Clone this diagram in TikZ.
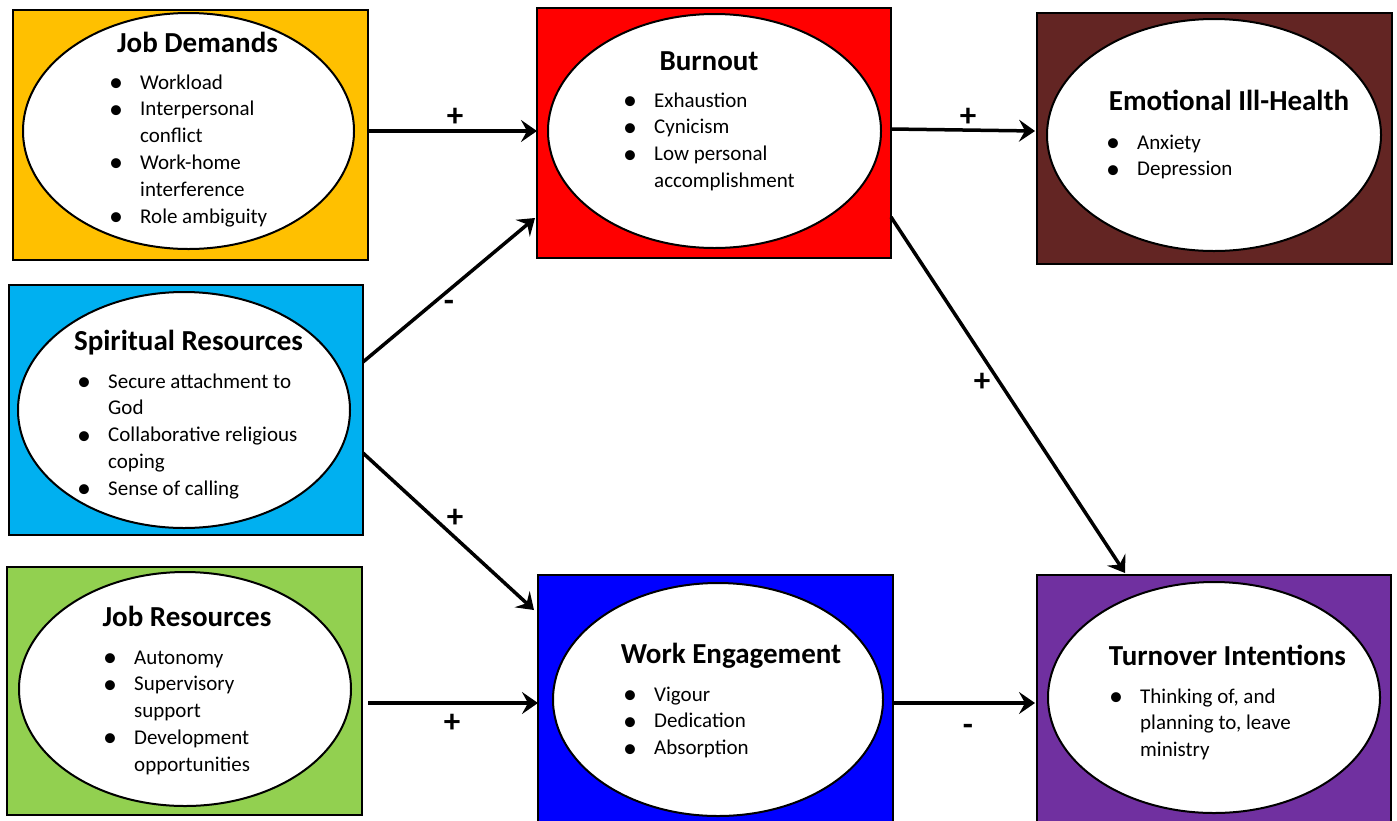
\documentclass[tikz,border=0pt]{standalone}
\usepackage{fontspec}
\setmainfont{Carlito}
\usetikzlibrary{shapes.geometric,arrows.meta,calc}
\definecolor{cYellow}{HTML}{FFC000}
\definecolor{cRed}{HTML}{FF0000}
\definecolor{cBrown}{HTML}{632523}
\definecolor{cCyan}{HTML}{00B0F0}
\definecolor{cGreen}{HTML}{92D050}
\definecolor{cBlue}{HTML}{0000FF}
\definecolor{cPurple}{HTML}{7030A0}
\newcommand{\bul}{\makebox[24pt][l]{\makebox[0pt][c]{\raisebox{-2.5pt}{\fontsize{28}{28}\selectfont •}}}}
\tikzset{
  box/.style={rectangle, draw=black, line width=1.5pt, inner sep=0pt, outer sep=0pt},
  oval/.style={ellipse, draw=black, line width=2pt, fill=white, inner sep=0pt, outer sep=0pt},
  ttl/.style={font=\fontsize{29}{35}\selectfont\bfseries, inner sep=0pt, anchor=base},
  lst/.style={font=\fontsize{21}{26.8}\selectfont, inner sep=0pt, anchor=base west},
  arr/.style={line width=3.5pt, -{Stealth[length=16pt,width=22pt,inset=6pt]}},
  sgn/.style={font=\fontsize{33}{35}\selectfont\bfseries, inner sep=0pt}
}
\begin{document}
\begin{tikzpicture}[x=1pt,y=-1pt]
\clip (0,0) rectangle (1397,820);
\fill[white] (0,0) rectangle (1397,820);

% boxes
\node[box, fill=cYellow, minimum width=355pt, minimum height=250pt] (jd) at (190.5,135) {};
\node[box, fill=cRed, minimum width=354pt, minimum height=250pt] (bo) at (714,133) {};
\node[box, fill=cBrown, minimum width=355pt, minimum height=251pt] (emo) at (1214.5,138.5) {};
\node[box, fill=cCyan, minimum width=354pt, minimum height=250pt] (sp) at (186,410) {};
\node[box, fill=cGreen, minimum width=355pt, minimum height=248pt] (jr) at (184.5,691) {};
\node[box, fill=cBlue, minimum width=355pt, minimum height=250pt] (we) at (715.5,700) {};
\node[box, fill=cPurple, minimum width=354pt, minimum height=250pt] (tu) at (1214,700) {};

% ovals
\node[oval, minimum width=331pt, minimum height=236pt] (jdo) at (188.5,131) {};
\node[oval, minimum width=333pt, minimum height=234pt] (boo) at (714.5,131) {};
\node[oval, minimum width=334pt, minimum height=232pt] (emoo) at (1214,135) {};
\node[oval, minimum width=332pt, minimum height=236pt] (spo) at (184,410) {};
\node[oval, minimum width=332pt, minimum height=234pt] (jro) at (185,689) {};
\node[oval, minimum width=330pt, minimum height=233pt] (weo) at (718,699.5) {};
\node[oval, minimum width=332pt, minimum height=231pt] (tuo) at (1214,697.5) {};

% titles
\node[ttl] (jdt) at (197.5,52) {Job Demands};
\node[ttl] (bot) at (709,70) {Burnout};
\node[ttl] (emot) at (1229,110) {Emotional Ill-Health};
\node[ttl] (spt) at (188.5,350) {Spiritual Resources};
\node[ttl] (jrt) at (187,626) {Job Resources};
\node[ttl] (wet) at (731,663) {Work Engagement};
\node[ttl] (tut) at (1227.5,665) {Turnover Intentions};

% lists
\node[lst] (jdl) at (116,89) {\begin{tabular}[t]{@{}l@{}l@{}}
\bul & Workload\\ \bul & Interpersonal\\ & conflict\\ \bul & Work-home\\ & interference\\ \bul & Role ambiguity\end{tabular}};
\node[lst] (bol) at (630,107) {\begin{tabular}[t]{@{}l@{}l@{}}
\bul & Exhaustion\\ \bul & Cynicism\\ \bul & Low personal\\ & accomplishment\end{tabular}};
\node[lst] (emol) at (1113,149) {\begin{tabular}[t]{@{}l@{}l@{}}
\bul & Anxiety\\ \bul & Depression\end{tabular}};
\node[lst] (spl) at (84,388) {\begin{tabular}[t]{@{}l@{}l@{}}
\bul & Secure attachment to\\ & God\\ \bul & Collaborative religious\\ & coping\\ \bul & Sense of calling\end{tabular}};
\node[lst] (jrl) at (110,664) {\begin{tabular}[t]{@{}l@{}l@{}}
\bul & Autonomy\\ \bul & Supervisory\\ & support\\ \bul & Development\\ & opportunities\end{tabular}};
\node[lst] (wel) at (630,701) {\begin{tabular}[t]{@{}l@{}l@{}}
\bul & Vigour\\ \bul & Dedication\\ \bul & Absorption\end{tabular}};
\node[lst] (tul) at (1116,703) {\begin{tabular}[t]{@{}l@{}l@{}}
\bul & Thinking of, and\\ & planning to, leave\\ & ministry\end{tabular}};

% connectors
\draw[arr] ([yshift=4pt]jd.east) -- ([yshift=4pt]jd.east -| bo.west);
\draw[arr] ([yshift=4pt]bo.east) -- ([xshift=-2pt,yshift=7.5pt]emo.west);
\draw[arr] ([yshift=48pt]sp.east) -- ([xshift=-2pt,yshift=-85pt]bo.west);
\draw[arr] ([yshift=-43pt]sp.east) -- ([xshift=-4pt,yshift=90pt]we.west);
\draw[arr] ([yshift=-84pt]bo.east) -- ([xshift=-89pt,yshift=2pt]tu.north);
\coordinate (jrout) at ([xshift=6pt,yshift=-12pt]jr.east);
\draw[arr] (jrout) -- (jrout -| we.west);
\draw[arr] ([yshift=-3pt]we.east) -- ([xshift=-2pt,yshift=-3pt]tu.west);

% signs
\node[sgn] (s1) at (455,117) {+};
\node[sgn] (s2) at (968,117) {+};
\node[sgn] (s3) at (449,306) {-};
\node[sgn] (s4) at (455,518) {+};
\node[sgn] (s5) at (982,382) {+};
\node[sgn] (s6) at (452,723) {+};
\node[sgn] (s7) at (968,730) {-};
\end{tikzpicture}
\end{document}
